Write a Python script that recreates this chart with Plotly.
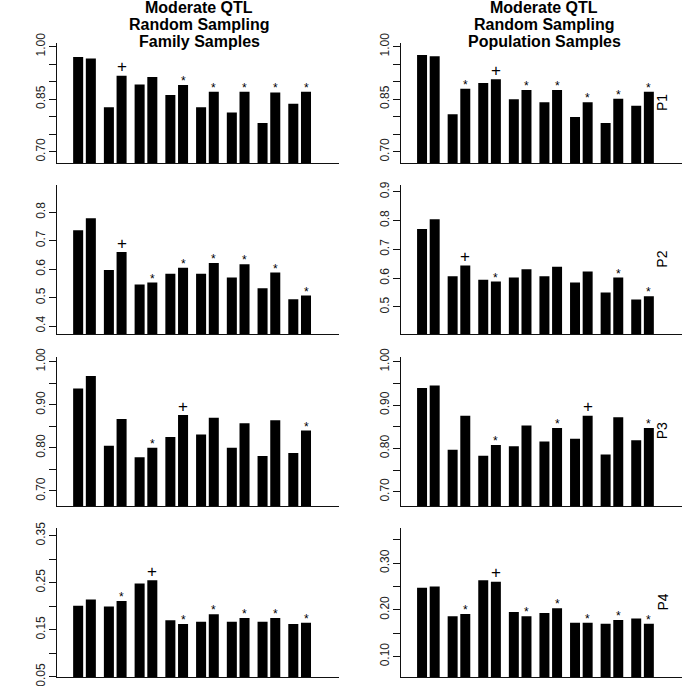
import plotly.graph_objects as go

# ---------------- data ----------------
groups = [1, 2, 3, 4, 5, 6, 7, 8]

# P1
p1_fam_a = [0.970, 0.827, 0.892, 0.862, 0.827, 0.812, 0.782, 0.837]
p1_fam_b = [0.966, 0.917, 0.913, 0.890, 0.871, 0.871, 0.869, 0.871]
p1_fam_marks = ["", "+", "", "*", "*", "*", "*", "*"]
p1_pop_a = [0.976, 0.807, 0.896, 0.850, 0.841, 0.799, 0.782, 0.831]
p1_pop_b = [0.972, 0.880, 0.907, 0.876, 0.876, 0.841, 0.851, 0.871]
p1_pop_marks = ["", "*", "+", "*", "*", "*", "*", "*"]

# P2
p2_fam_a = [0.737, 0.597, 0.546, 0.584, 0.584, 0.571, 0.533, 0.494]
p2_fam_b = [0.779, 0.660, 0.553, 0.605, 0.622, 0.617, 0.588, 0.507]
p2_fam_marks = ["", "+", "*", "*", "*", "*", "*", "*"]
p2_pop_a = [0.770, 0.606, 0.594, 0.602, 0.606, 0.585, 0.550, 0.526]
p2_pop_b = [0.804, 0.644, 0.588, 0.631, 0.639, 0.623, 0.602, 0.537]
p2_pop_marks = ["", "+", "*", "", "", "", "*", "*"]

# P3
p3_fam_a = [0.938, 0.805, 0.778, 0.825, 0.831, 0.800, 0.781, 0.788]
p3_fam_b = [0.967, 0.867, 0.800, 0.876, 0.870, 0.857, 0.864, 0.840]
p3_fam_marks = ["", "", "*", "+", "", "", "", "*"]
p3_pop_a = [0.939, 0.797, 0.783, 0.805, 0.816, 0.822, 0.786, 0.819]
p3_pop_b = [0.945, 0.875, 0.808, 0.853, 0.847, 0.875, 0.872, 0.847]
p3_pop_marks = ["", "", "*", "", "*", "+", "", "*"]

# P4
p4_fam_a = [0.201, 0.199, 0.248, 0.170, 0.167, 0.167, 0.167, 0.162]
p4_fam_b = [0.214, 0.211, 0.255, 0.162, 0.183, 0.175, 0.175, 0.165]
p4_fam_marks = ["", "*", "+", "*", "*", "*", "*", "*"]
p4_pop_a = [0.247, 0.186, 0.263, 0.195, 0.193, 0.172, 0.170, 0.181]
p4_pop_b = [0.250, 0.191, 0.260, 0.186, 0.203, 0.172, 0.178, 0.170]
p4_pop_marks = ["", "*", "+", "*", "*", "*", "*", "*"]

# tick values / labels
ticks_p1 = [0.70, 0.75, 0.80, 0.85, 0.90, 0.95, 1.00]
ticklabels_p1 = ["0.70", "", "", "0.85", "", "", "1.00"]
ticks_p2_fam = [0.4, 0.5, 0.6, 0.7, 0.8]
ticklabels_p2_fam = ["0.4", "0.5", "0.6", "0.7", "0.8"]
ticks_p2_pop = [0.5, 0.6, 0.7, 0.8, 0.9]
ticklabels_p2_pop = ["0.5", "0.6", "0.7", "0.8", "0.9"]
ticks_p3 = [0.70, 0.75, 0.80, 0.85, 0.90, 0.95, 1.00]
ticklabels_p3 = ["0.70", "", "0.80", "", "0.90", "", "1.00"]
ticks_p4_fam = [0.05, 0.10, 0.15, 0.20, 0.25, 0.30, 0.35]
ticklabels_p4_fam = ["0.05", "", "0.15", "", "0.25", "", "0.35"]
ticks_p4_pop = [0.10, 0.15, 0.20, 0.25, 0.30, 0.35]
ticklabels_p4_pop = ["0.10", "", "0.20", "", "0.30", ""]

titles_fam = ["Moderate QTL", "Random Sampling", "Family Samples"]
titles_pop = ["Moderate QTL", "Random Sampling", "Population Samples"]
row_labels = ["P1", "P2", "P3", "P4"]

# ---------------- layout helpers ----------------
W, H = 685, 686
col_px = [(57.3, 339.3), (401.3, 682.0)]
row_px = [(42.7, 163.3), (185.0, 334.3), (356.7, 506.0), (528.0, 677.0)]

panels = [
    # (row, col, a, b, marks, ticks, ticklabels, yrange)
    (0, 0, p1_fam_a, p1_fam_b, p1_fam_marks, ticks_p1, ticklabels_p1, [0.667, 1.011]),
    (0, 1, p1_pop_a, p1_pop_b, p1_pop_marks, ticks_p1, ticklabels_p1, [0.667, 1.011]),
    (1, 0, p2_fam_a, p2_fam_b, p2_fam_marks, ticks_p2_fam, ticklabels_p2_fam, [0.371, 0.896]),
    (1, 1, p2_pop_a, p2_pop_b, p2_pop_marks, ticks_p2_pop, ticklabels_p2_pop, [0.405, 0.923]),
    (2, 0, p3_fam_a, p3_fam_b, p3_fam_marks, ticks_p3, ticklabels_p3, [0.665, 1.0116]),
    (2, 1, p3_pop_a, p3_pop_b, p3_pop_marks, ticks_p3, ticklabels_p3, [0.667, 1.0115]),
    (3, 0, p4_fam_a, p4_fam_b, p4_fam_marks, ticks_p4_fam, ticklabels_p4_fam, [0.0495, 0.366]),
    (3, 1, p4_pop_a, p4_pop_b, p4_pop_marks, ticks_p4_pop, ticklabels_p4_pop, [0.056, 0.375]),
]

BARGAP = 0.174
BARGROUPGAP = 0.21
XRANGE = [0.115, 9.29]
FONT = "Liberation Sans, Arial, sans-serif"
offset_b = (1 - BARGAP) / 4.0  # centre offset of second bar (in category units)

fig = go.Figure()
layout = dict(
    width=W, height=H,
    margin=dict(l=0, r=0, t=0, b=0),
    paper_bgcolor="white", plot_bgcolor="white",
    showlegend=False,
    barmode="group", bargap=BARGAP, bargroupgap=BARGROUPGAP,
    font=dict(family=FONT, color="black"),
)
annotations = []

for i, (r, c, a, b, marks, tv, tt, yr) in enumerate(panels):
    n = i + 1
    xa = "x" if n == 1 else f"x{n}"
    ya = "y" if n == 1 else f"y{n}"
    fig.add_trace(go.Bar(x=groups, y=a, xaxis=xa, yaxis=ya,
                         marker=dict(color="black", line=dict(width=0))))
    fig.add_trace(go.Bar(x=groups, y=b, xaxis=xa, yaxis=ya,
                         marker=dict(color="black", line=dict(width=0))))
    x0, x1 = col_px[c]
    y0, y1 = row_px[r]
    layout[f"xaxis{n if n > 1 else ''}"] = dict(
        domain=[x0 / W, x1 / W], anchor=ya, range=XRANGE,
        showline=True, linecolor="#111", linewidth=1,
        ticks="", showticklabels=False, showgrid=False, zeroline=False,
    )
    layout[f"yaxis{n if n > 1 else ''}"] = dict(
        domain=[1 - y1 / H, 1 - y0 / H], anchor=xa, range=yr,
        showline=True, linecolor="#111", linewidth=1,
        ticks="outside", ticklen=7, tickwidth=1, tickcolor="#111",
        tickmode="array", tickvals=tv, ticktext=tt, tickangle=-90,
        tickfont=dict(family=FONT, size=12, color="#222"),
        ticklabeloverflow="allow",
        showgrid=False, zeroline=False, automargin=False,
    )
    for g, val, m in zip(groups, b, marks):
        if not m:
            continue
        annotations.append(dict(
            x=g + offset_b, y=val, xref=xa, yref=ya, text=m, showarrow=False,
            yanchor="middle", xanchor="center",
            yshift=4 if m == "*" else 9,
            font=dict(family=FONT, size=12 if m == "*" else 17, color="black"),
        ))

# column titles
for cx, lines in [(199.0, titles_fam), (544.0, titles_pop)]:
    for k, txt in enumerate(lines):
        annotations.append(dict(
            x=cx / W, y=1 - (8.0 + 16.7 * k) / H, xref="paper", yref="paper",
            text=f"<b>{txt}</b>", showarrow=False, xanchor="center", yanchor="middle",
            font=dict(family=FONT, size=16, color="black"),
        ))

# row labels on right
for r, lab in enumerate(row_labels):
    y0, y1 = row_px[r]
    annotations.append(dict(
        x=662 / W, y=1 - ((y0 + y1) / 2) / H, xref="paper", yref="paper",
        text=lab, showarrow=False, textangle=-90, xanchor="center", yanchor="middle",
        font=dict(family=FONT, size=14, color="black"),
    ))

layout["annotations"] = annotations
fig.update_layout(**layout)
fig.write_html(
    "out.html",
    config={"displayModeBar": False},
    post_script="document.body.style.margin='0';document.body.style.overflow='hidden';",
)
